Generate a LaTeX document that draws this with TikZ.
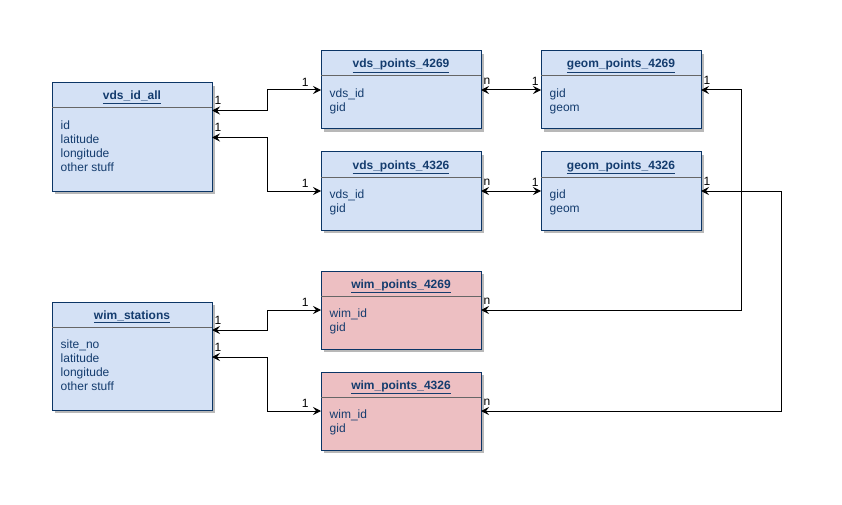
\documentclass[tikz,border=0pt]{standalone}
\usepackage{fontspec}
\setmainfont{Liberation Sans}
\usepackage{tikz}
\usetikzlibrary{arrows.meta,shadows,positioning}
\definecolor{eblue}{HTML}{D4E1F5}
\definecolor{ered}{HTML}{EDBFC2}
\definecolor{eline}{HTML}{0B3566}
\definecolor{etext}{HTML}{143C6E}
\tikzstyle{tbl}=[rectangle, draw=eline, anchor=north west, minimum width=160pt, line width=1, inner sep=0, outer sep=0, drop shadow={shadow xshift=3pt, shadow yshift=-3pt, fill=black!28, opacity=1}]
\tikzstyle{hdr}=[line width=1, color=black!60]
\tikzstyle{ttl}=[anchor=base, inner sep=0, text=etext, font=\fontsize{12}{14}\selectfont\bfseries]
\tikzstyle{fld}=[anchor=north west, inner sep=0, align=left, text=etext, font=\fontsize{12}{14}\selectfont]
\tikzstyle{rel}=[line width=1, <->, >={Stealth[length=8pt,width=8pt,inset=3pt]}]
\tikzstyle{lbs}=[anchor=south west, inner sep=0, xshift=2pt, yshift=5pt, font=\fontsize{12}{14}\selectfont]
\tikzstyle{lbt}=[anchor=south east, inner sep=0, xshift=-12pt, yshift=3pt, font=\fontsize{12}{14}\selectfont]
\tikzstyle{lbg}=[anchor=south east, inner sep=0, xshift=-2pt, yshift=4pt, font=\fontsize{12}{14}\selectfont]
% name, x, y, height, fill, title, fields
\newcommand{\entity}[7]{%
  \node[tbl, fill=#5, minimum height=#4pt] (#1) at (#2,#3) {};
  \draw[hdr] ([yshift=-25pt]#1.north west) -- ([yshift=-25pt]#1.north east);
  \node[ttl] (#1-t) at ([yshift=-17pt]#1.north) {\underline{#6}};
  \node[fld] (#1-f) at ([xshift=8.5pt,yshift=-37.5pt]#1.north west) {#7};
}

\begin{document}
\begin{tikzpicture}[x=1pt,y=-1pt]
    \useasboundingbox (0,0) rectangle (842,505);
    \entity{vdsall}{52}{83}{108}{eblue}{vds\_id\_all}{id\\latitude\\longitude\\other stuff}
    \entity{vp1}{321}{51}{78}{eblue}{vds\_points\_4269}{vds\_id\\gid}
    \entity{vp2}{321}{152}{78}{eblue}{vds\_points\_4326}{vds\_id\\gid}
    \entity{gp1}{541}{51}{78}{eblue}{geom\_points\_4269}{gid\\geom}
    \entity{gp2}{541}{152}{78}{eblue}{geom\_points\_4326}{gid\\geom}
    \entity{wims}{52}{302}{108}{eblue}{wim\_stations}{site\_no\\latitude\\longitude\\other stuff}
    \entity{wp1}{321}{271}{78}{ered}{wim\_points\_4269}{wim\_id\\gid}
    \entity{wp2}{321}{372}{78}{ered}{wim\_points\_4326}{wim\_id\\gid}

    % station tables to point tables
    \draw[rel] ([yshift=-27.5pt]vdsall.north east) node[lbs]{1} -- ++(55,0) |- ([yshift=-39pt]vp1.north west) node[lbt]{1};
    \draw[rel] ([yshift=-54.5pt]vdsall.north east) node[lbs]{1} -- ++(55,0) |- ([yshift=-39pt]vp2.north west) node[lbt]{1};
    \draw[rel] ([yshift=-28pt]wims.north east) node[lbs]{1} -- ++(55,0) |- ([yshift=-39pt]wp1.north west) node[lbt]{1};
    \draw[rel] ([yshift=-55pt]wims.north east) node[lbs]{1} -- ++(55,0) |- ([yshift=-39pt]wp2.north west) node[lbt]{1};

    % point tables to geometry
    \draw[rel] ([yshift=-39pt]vp1.north east) node[lbs]{n} -- ([yshift=-39pt]gp1.north west) node[lbg]{1};
    \draw[rel] ([yshift=-39pt]vp2.north east) node[lbs]{n} -- ([yshift=-39pt]gp2.north west) node[lbg]{1};
    \draw[rel] ([yshift=-39pt]gp1.north east) node[lbs]{1} -- ++(40,0) |- ([yshift=-39pt]wp1.north east) node[lbs]{n};
    \draw[rel] ([yshift=-39pt]gp2.north east) node[lbs]{1} -- ++(80,0) |- ([yshift=-39pt]wp2.north east) node[lbs]{n};
\end{tikzpicture}
\end{document}
